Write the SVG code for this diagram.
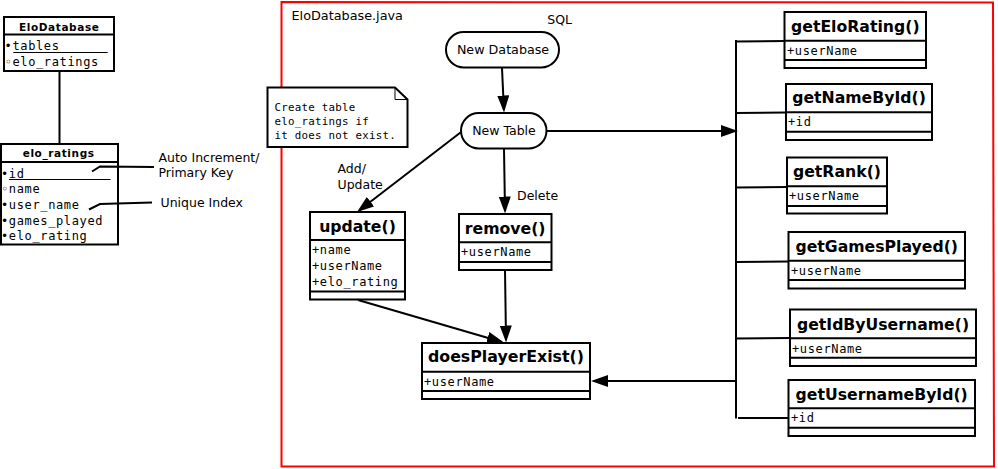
<svg xmlns="http://www.w3.org/2000/svg" width="998" height="469" viewBox="0 0 998 469">
<style>
.box{fill:#fff;stroke:#000;stroke-width:2}
.sep{fill:none;stroke:#000;stroke-width:2}
.ln{fill:none;stroke:#000;stroke-width:2}
.thin{fill:none;stroke:#000;stroke-width:1}
.hdr{font-family:"DejaVu Sans",sans-serif;font-weight:bold;font-size:15.7px;fill:#000}
.shdr{font-family:"DejaVu Sans",sans-serif;font-weight:bold;font-size:10.5px;letter-spacing:0.6px;fill:#000}
.attr{font-family:"DejaVu Sans Mono",monospace;font-size:12px;letter-spacing:0.63px;fill:#000}
.note{font-family:"DejaVu Sans Mono",monospace;font-size:10.8px;letter-spacing:0.25px;fill:#000}
.lbl{font-family:"DejaVu Sans",sans-serif;font-size:12.5px;fill:#000}
</style>
<defs>
<marker id="ah" markerUnits="userSpaceOnUse" markerWidth="18" markerHeight="12" refX="14" refY="6" orient="auto">
<path d="M0,0 L17,6 L0,12 Z" fill="#000"/>
</marker>
</defs>
<rect width="998" height="469" fill="#fff"/>

<!-- frame -->
<g id="frame">
<polygon points="281.5,2 993,2.5 994,466.5 281.5,466.5" fill="none" stroke="#ff0000" stroke-width="2"/>
<text class="lbl" x="291.5" y="19.5" style="font-size:12.8px">EloDatabase.java</text>
</g>

<!-- EloDatabase table -->
<g id="EloDatabase">
<rect class="box" x="4" y="17" width="110" height="54"/>
<line class="sep" x1="4" y1="34.5" x2="114" y2="34.5"/>
<text class="shdr" x="19" y="30.5">EloDatabase</text>
<text class="attr" x="4.6" y="50">•tables</text>
<line class="thin" x1="13.3" y1="52.5" x2="107.7" y2="52.5"/>
<text class="attr" x="4.6" y="66">◦elo_ratings</text>
</g>

<g id="elo_ratings">
<rect class="box" x="1" y="144" width="117" height="100.5"/>
<line class="sep" x1="1" y1="162" x2="118" y2="162"/>
<text class="shdr" x="22.7" y="157.3">elo_ratings</text>
<text class="attr" x="1" y="177.5">•id</text>
<line class="thin" x1="9" y1="179.5" x2="110.5" y2="179.5"/>
<text class="attr" x="1" y="193">◦name</text>
<text class="attr" x="1" y="209">•user_name</text>
<text class="attr" x="1" y="224.5">•games_played</text>
<text class="attr" x="1" y="240">•elo_rating</text>
</g>

<g id="note">
<path class="box" d="M267.5,87.5 L395,87.5 L407.5,99.5 L407.5,147 L267.5,147 Z"/>
<path class="thin" d="M395,87.5 L395,99.5 L407.5,99.5"/>
<text class="note" x="274.5" y="111">Create table</text>
<text class="note" x="274.5" y="125">elo_ratings if</text>
<text class="note" x="274.5" y="139">it does not exist.</text>
</g>

<!-- connectors -->
<g id="connectors">
<line class="ln" x1="59.5" y1="71" x2="59.5" y2="144"/>
<polyline class="ln" points="92,171.5 100,166.5 154,167"/>
<polyline class="ln" points="89,209.5 100,204 152,202.5"/>
<line class="ln" x1="502" y1="68" x2="503.9" y2="109.5" marker-end="url(#ah)"/>
<line class="ln" x1="546.5" y1="131" x2="735" y2="131" marker-end="url(#ah)"/>
<line class="ln" x1="460.5" y1="132.5" x2="359.4" y2="210.2" marker-end="url(#ah)"/>
<line class="ln" x1="504" y1="149" x2="505" y2="210.5" marker-end="url(#ah)"/>
<line class="ln" x1="358" y1="300" x2="501.1" y2="341.7" marker-end="url(#ah)"/>
<line class="ln" x1="505" y1="270" x2="506" y2="339.5" marker-end="url(#ah)"/>
<line class="ln" x1="737" y1="381" x2="594" y2="381" marker-end="url(#ah)"/>
<line class="ln" x1="736" y1="40" x2="736" y2="418.5"/>
<line class="ln" x1="736" y1="41.5" x2="785" y2="41"/>
<line class="ln" x1="736" y1="113" x2="786" y2="112.5"/>
<line class="ln" x1="736" y1="187.5" x2="787" y2="187"/>
<line class="ln" x1="736" y1="262" x2="788.5" y2="261.5"/>
<line class="ln" x1="736" y1="338.5" x2="790" y2="338"/>
<line class="ln" x1="738" y1="418" x2="789" y2="418"/>
</g>

<g id="annotations">
<text class="lbl" x="158.5" y="161.5">Auto Increment/</text>
<text class="lbl" x="158.5" y="177">Primary Key</text>
<text class="lbl" x="160.5" y="206.5">Unique Index</text>
<text class="lbl" x="547.3" y="23.5">SQL</text>
<text class="lbl" x="337.5" y="172.5">Add/</text>
<text class="lbl" x="337.5" y="188.5">Update</text>
<text class="lbl" x="517" y="199.5">Delete</text>
</g>

<g id="NewDatabase">
<rect class="box" x="446" y="32" width="113" height="35.5" rx="17.75"/>
<text class="lbl" x="503" y="54.3" text-anchor="middle" style="font-size:12.7px">New Database</text>
</g>

<g id="NewTable">
<rect class="box" x="461" y="113" width="85.5" height="35.5" rx="17.75"/>
<text class="lbl" x="504" y="135.3" text-anchor="middle">New Table</text>
</g>

<g id="update">
<rect class="box" x="310" y="212" width="95" height="87.5"/>
<line class="sep" x1="310" y1="240" x2="405" y2="240"/>
<line class="sep" x1="310" y1="291.5" x2="405" y2="291.5"/>
<text class="hdr" x="357.5" y="231.5" text-anchor="middle">update()</text>
<text class="attr" x="312" y="254">+name</text>
<text class="attr" x="312" y="270">+userName</text>
<text class="attr" x="312" y="285.7">+elo_rating</text>
</g>

<g id="remove">
<rect class="box" x="459" y="214" width="92.5" height="56"/>
<line class="sep" x1="459" y1="242.3" x2="551.5" y2="242.3"/>
<line class="sep" x1="459" y1="262" x2="551.5" y2="262"/>
<text class="hdr" x="505.2" y="234" text-anchor="middle">remove()</text>
<text class="attr" x="461" y="256">+userName</text>
</g>

<g id="doesPlayerExist">
<rect class="box" x="422" y="343" width="168" height="56"/>
<line class="sep" x1="422" y1="371.7" x2="590" y2="371.7"/>
<line class="sep" x1="422" y1="391" x2="590" y2="391"/>
<text class="hdr" x="506" y="361.7" text-anchor="middle" style="font-size:15.8px">doesPlayerExist()</text>
<text class="attr" x="424" y="385.5">+userName</text>
</g>

<g id="getEloRating">
<rect class="box" x="784.5" y="12" width="141.5" height="56"/>
<line class="sep" x1="784.5" y1="40.7" x2="926" y2="40.7"/>
<line class="sep" x1="784.5" y1="60" x2="926" y2="60"/>
<text class="hdr" x="855.3" y="31.7" text-anchor="middle">getEloRating()</text>
<text class="attr" x="787" y="54.5">+userName</text>
</g>

<g id="getNameById">
<rect class="box" x="786" y="84" width="146" height="56"/>
<line class="sep" x1="786" y1="112.3" x2="932" y2="112.3"/>
<line class="sep" x1="786" y1="131.7" x2="932" y2="131.7"/>
<text class="hdr" x="859" y="103.3" text-anchor="middle">getNameById()</text>
<text class="attr" x="788" y="126">+id</text>
</g>

<g id="getRank">
<rect class="box" x="787" y="157.5" width="100" height="56"/>
<line class="sep" x1="787" y1="186.3" x2="887" y2="186.3"/>
<line class="sep" x1="787" y1="206" x2="887" y2="206"/>
<text class="hdr" x="837" y="176.7" text-anchor="middle">getRank()</text>
<text class="attr" x="789" y="200">+userName</text>
</g>

<g id="getGamesPlayed">
<rect class="box" x="788.5" y="232" width="176.5" height="56.5"/>
<line class="sep" x1="788.5" y1="260.7" x2="965" y2="260.7"/>
<line class="sep" x1="788.5" y1="280" x2="965" y2="280"/>
<text class="hdr" x="876.7" y="251.7" text-anchor="middle">getGamesPlayed()</text>
<text class="attr" x="791" y="274.5">+userName</text>
</g>

<g id="getIdByUsername">
<rect class="box" x="790" y="309.5" width="186" height="56.5"/>
<line class="sep" x1="790" y1="338.3" x2="976" y2="338.3"/>
<line class="sep" x1="790" y1="357.7" x2="976" y2="357.7"/>
<text class="hdr" x="883" y="330" text-anchor="middle">getIdByUsername()</text>
<text class="attr" x="792" y="352.5">+userName</text>
</g>

<g id="getUsernameById">
<rect class="box" x="788.5" y="380" width="186.5" height="56"/>
<line class="sep" x1="788.5" y1="408.3" x2="975" y2="408.3"/>
<line class="sep" x1="788.5" y1="427.7" x2="975" y2="427.7"/>
<text class="hdr" x="881.7" y="400" text-anchor="middle">getUsernameById()</text>
<text class="attr" x="791" y="422">+id</text>
</g>
</svg>
